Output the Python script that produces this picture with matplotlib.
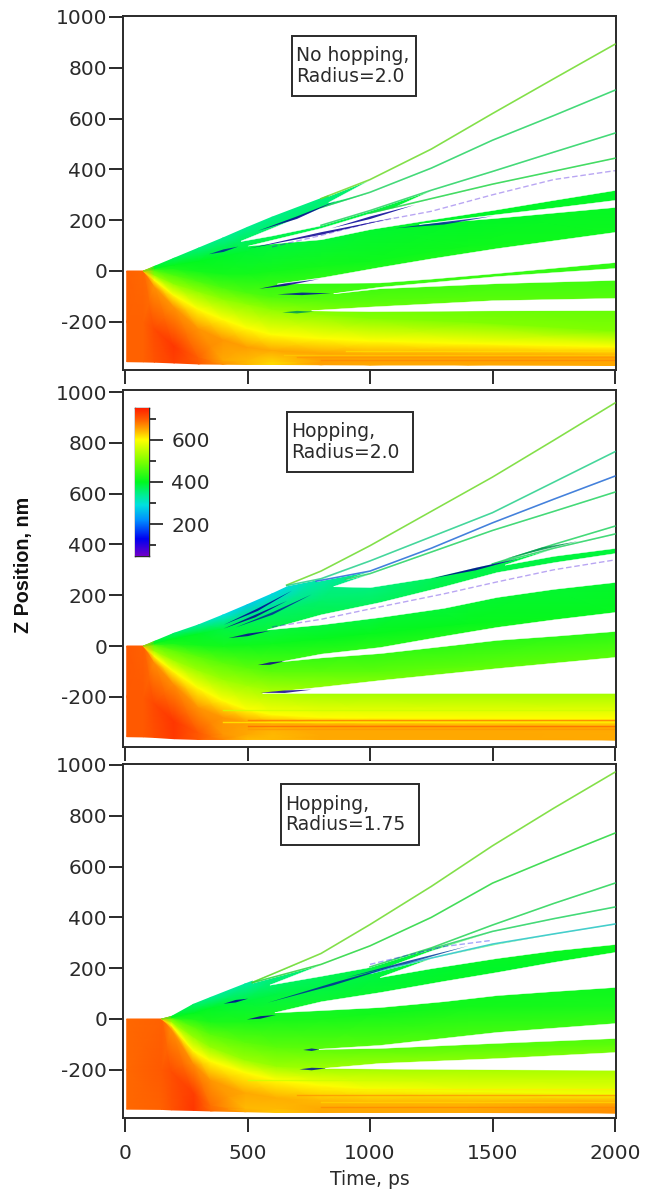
import numpy as np
import matplotlib
matplotlib.use("Agg")
import matplotlib.pyplot as plt
from matplotlib.colors import LinearSegmentedColormap, Normalize, to_rgb
from matplotlib.patches import Rectangle

plt.rcParams["axes.unicode_minus"] = False
W, H = 645, 1198
INK = "#2a2a2a"

# colour scale
SCALE_VALUES = [50, 130, 220, 290, 340, 400, 500, 600, 650, 700, 750]
SCALE_COLORS = ["#7000c8", "#0000f0", "#0090ff", "#00e0e0", "#00ee90", "#00f820", "#80ff00",
                "#ffff00", "#ffa800", "#ff5a00", "#ff2000"]

YTICKS = [-200, 0, 200, 400, 600, 800, 1000]
XTICKS = [0, 500, 1000, 1500, 2000]
TITLES = ["No hopping,\nRadius=2.0", "Hopping,\nRadius=2.0", "Hopping,\nRadius=1.75"]

# ---------- panel 1 ----------
P1_T = [7, 75, 120, 200, 300, 400, 500, 600, 800, 1000, 1400, 2000]
P1_Z = [
    [-357, -358, -359, -362, -366, -367, -368, -368, -369, -370, -370, -372],
    [-200, -200, -225, -295, -340, -350, -352, -354, -355, -356, -356, -356],
    [0, 0, -60, -140, -225, -270, -300, -312, -322, -328, -330, -335],
    [0, 0, -35, -95, -150, -190, -225, -250, -265, -275, -285, -298],
    [0, 0, -15, -50, -80, -110, -130, -150, -170, -185, -200, -235],
    [0, 0, 3, -15, -40, -65, -85, -100, -110, -110, -100, -100],
    [0, 0, 8, 10, 0, -10, -10, 0, 20, 40, 100, 150],
    [0, 0, 12, 25, 40, 60, 80, 105, 140, 180, 210, 320],
    [0, 0, 18, 50, 90, 130, 172, 212, 285, 360, 570, 893],
]
P1_V = [
    [695, 695, 705, 722, 700, 665, 640, 620, 655, 650, 650, 650],
    [695, 695, 712, 730, 695, 650, 640, 625, 655, 652, 652, 650],
    [695, 690, 662, 660, 660, 660, 655, 650, 650, 650, 650, 650],
    [695, 640, 600, 600, 600, 600, 600, 600, 600, 600, 600, 600],
    [695, 640, 510, 510, 510, 510, 510, 510, 510, 505, 500, 500],
    [695, 640, 460, 460, 460, 460, 460, 460, 465, 465, 465, 465],
    [695, 640, 430, 420, 415, 415, 415, 415, 415, 410, 410, 410],
    [695, 640, 405, 405, 400, 395, 390, 385, 385, 390, 395, 395],
    [695, 640, 390, 370, 350, 340, 340, 345, 350, 360, 400, 470],
]
P1_GAPS = [
    ([830, 1000, 1250, 1500, 1750, 2000], [296, 360, 480, 620, 757, 893], [1100, 1100, 1100, 1100, 1100, 1100]),
    ([830, 1000, 1250, 1500, 1750, 2000], [270, 310, 405, 515, 612, 712], [272, 360, 480, 620, 757, 893]),
    ([472, 600, 800, 1000, 1250, 1500, 1750, 2000], [118, 140, 180, 238, 318, 392, 468, 543],
     [120, 170, 250, 310, 405, 515, 612, 712]),
    ([1100, 1250, 1500, 1750, 2000], [252, 285, 342, 393, 444], [253, 318, 392, 468, 543]),
    ([500, 800, 1000, 1250, 1500, 1750, 2000], [100, 125, 165, 203, 240, 280, 319], [100, 170, 228, 285, 342, 393, 444]),
    ([1200, 1500, 1750, 2000], [185, 208, 230, 252], [186, 222, 250, 280]),
    ([620, 800, 1040, 1250, 1517, 2000], [-50, -47, -45, -30, -8, 35], [-49, -25, 16, 50, 90, 154]),
    ([850, 1040, 1517, 2000], [-88, -68, -48, -35], [-87, -62, -20, 12]),
    ([760, 1000, 1500, 2000], [-155, -158, -155, -154], [-154, -140, -115, -106]),
]
P1_LINES = [
    ([800, 1000, 1250, 1500, 1750, 2000], [285, 360, 480, 620, 757, 893], 480),
    ([800, 1000, 1250, 1500, 1750, 2000], [250, 310, 405, 515, 612, 712], 370),
    ([800, 1000, 1250, 1500, 1750, 2000], [180, 238, 318, 392, 468, 543], 370),
    ([1000, 1250, 1500, 1750, 2000], [228, 285, 342, 393, 444], 390),
]
P1_FAINT = ([600, 800, 1000, 1250, 1500, 1750, 2000], [95, 140, 190, 235, 300, 360, 395], 90)
P1_SLIVERS = [
    ([540, 700, 860], [160, 212, 278], 120),
    ([340, 400, 460], [68, 82, 98], 170),
    ([500, 800, 1100], [90, 150, 212], 120),
    ([840, 1000, 1180], [170, 212, 262], 130),
    ([1100, 1300, 1500], [170, 190, 218], 170),
    ([545, 650, 790], [-68, -52, -30], 120),
    ([620, 720, 840], [-90, -88, -86], 150),
    ([640, 700, 770], [-161, -160, -158], 340),
]
P1_STRIPES = [(650, -330, 630), (800, -352, 670), (700, -340, 660), (900, -315, 620)]

# ---------- panel 2 ----------
P2_T = [7, 75, 120, 200, 300, 400, 500, 600, 800, 1000, 1400, 2000]
P2_Z = [
    [-357, -358, -360, -365, -368, -368, -368, -368, -368, -368, -368, -370],
    [-200, -200, -225, -295, -340, -345, -345, -348, -350, -350, -350, -350],
    [0, 0, -65, -150, -240, -280, -300, -305, -310, -312, -315, -320],
    [0, 0, -40, -100, -165, -215, -250, -270, -280, -282, -283, -285],
    [0, 0, -18, -55, -95, -130, -155, -175, -190, -190, -190, -190],
    [0, 0, 3, -15, -40, -65, -85, -100, -100, -100, -80, -43],
    [0, 0, 8, 10, 5, 0, 5, 10, 30, 50, 90, 130],
    [0, 0, 12, 30, 50, 70, 95, 125, 180, 225, 340, 400],
    [0, 0, 18, 50, 83, 122, 163, 205, 295, 395, 595, 957],
]
P2_V = [
    [700, 700, 710, 728, 700, 670, 640, 640, 650, 650, 650, 650],
    [700, 700, 715, 730, 700, 660, 650, 640, 650, 650, 650, 648],
    [700, 695, 665, 665, 660, 660, 655, 650, 650, 650, 650, 650],
    [700, 640, 600, 600, 600, 600, 600, 600, 600, 600, 600, 600],
    [700, 640, 520, 520, 520, 520, 525, 530, 530, 530, 530, 530],
    [700, 640, 470, 470, 470, 470, 470, 470, 470, 470, 470, 470],
    [700, 640, 430, 420, 415, 415, 410, 410, 405, 405, 405, 405],
    [700, 640, 405, 400, 395, 380, 370, 365, 360, 350, 370, 385],
    [700, 640, 390, 360, 330, 290, 270, 280, 310, 330, 390, 480],
]
P2_GAPS = [
    ([660, 800, 1000, 1250, 1500, 1750, 2000], [240, 295, 395, 530, 665, 810, 957], [1100, 1100, 1100, 1100, 1100, 1100, 1100]),
    ([660, 800, 1000, 1250, 1500, 1750, 2000], [238, 265, 335, 430, 525, 645, 765], [240, 295, 395, 530, 665, 810, 957]),
    ([780, 1000, 1250, 1500, 1750, 2000], [255, 295, 385, 485, 578, 669], [256, 335, 430, 525, 645, 765]),
    ([900, 1000, 1250, 1500, 1750, 2000], [262, 285, 370, 455, 530, 606], [263, 295, 385, 485, 578, 669]),
    ([850, 1000, 1250, 1500, 1750, 2000], [235, 232, 270, 325, 400, 472], [236, 285, 370, 455, 530, 606]),
    ([1500, 1750, 2000], [322, 385, 441], [323, 400, 472]),
    ([1550, 1750, 2000], [320, 355, 386], [321, 385, 441]),
    ([580, 800, 1040, 1300, 1517, 1750, 2000], [65, 85, 114, 150, 193, 225, 252], [66, 125, 173, 235, 291, 330, 366]),
    ([640, 800, 1040, 1300, 1517, 1750, 2000], [-60, -45, -28, 0, 24, 40, 59], [-59, -30, -4, 40, 75, 105, 134]),
    ([560, 800, 1040, 1517, 2000], [-185, -185, -185, -185, -185], [-184, -160, -134, -87, -43]),
]
P2_LINES = [
    ([660, 800, 1000, 1250, 1500, 1750, 2000], [240, 295, 395, 530, 665, 810, 957], 480),
    ([660, 800, 1000, 1250, 1500, 1750, 2000], [238, 265, 335, 430, 525, 645, 765], 340),
    ([780, 1000, 1250, 1500, 1750, 2000], [255, 295, 385, 485, 578, 669], 190),
    ([900, 1000, 1250, 1500, 1750, 2000], [262, 285, 370, 455, 530, 606], 370),
    ([1500, 1750, 2000], [323, 400, 472], 370),
    ([1500, 1750, 2000], [322, 385, 441], 370),
]
P2_FAINT = ([600, 800, 1040, 1300, 1517, 1750, 2000], [75, 105, 154, 205, 252, 300, 339], 90)
P2_SLIVERS = [
    ([400, 540, 680], [85, 145, 220], 130),
    ([400, 530, 660], [70, 120, 180], 120),
    ([450, 600, 760], [75, 130, 205], 170),
    ([420, 500, 590], [33, 46, 62], 120),
    ([1250, 1430, 1600], [268, 305, 345], 130),
    ([1550, 1700, 1850], [345, 385, 415], 350),
    ([540, 590, 650], [-73, -67, -58], 110),
    ([550, 650, 760], [-182, -178, -170], 110),
]
P2_STRIPES = [(400, -250, 560), (500, -292, 680), (400, -300, 610), (500, -316, 690), (500, -328, 660)]

# ---------- panel 3 ----------
P3_T = [7, 150, 190, 280, 350, 490, 620, 800, 1000, 1400, 2000]
P3_Z = [
    [-355, -356, -358, -360, -362, -365, -368, -368, -368, -368, -370],
    [-200, -200, -205, -290, -340, -350, -352, -354, -355, -355, -355],
    [0, 0, -40, -175, -240, -290, -310, -320, -325, -325, -325],
    [0, 0, -25, -125, -165, -210, -240, -260, -275, -285, -295],
    [0, 0, -10, -70, -110, -160, -185, -195, -200, -200, -200],
    [0, 0, 3, -30, -60, -90, -110, -115, -115, -110, -100],
    [0, 0, 5, 0, -10, -10, -5, 0, 20, 50, 50],
    [0, 0, 8, 25, 45, 70, 100, 125, 150, 200, 200],
    [0, 0, 10, 58, 85, 138, 185, 258, 372, 620, 972],
]
P3_V = [
    [690, 695, 705, 730, 690, 650, 630, 650, 650, 650, 665],
    [690, 700, 710, 725, 685, 640, 640, 650, 650, 650, 665],
    [690, 695, 665, 665, 660, 650, 645, 640, 640, 640, 645],
    [690, 640, 600, 600, 600, 600, 600, 600, 595, 590, 590],
    [690, 640, 515, 515, 515, 520, 520, 525, 530, 530, 530],
    [690, 640, 470, 470, 470, 470, 470, 470, 470, 470, 470],
    [690, 640, 430, 425, 420, 420, 420, 420, 415, 415, 420],
    [690, 640, 405, 400, 395, 385, 380, 380, 385, 395, 400],
    [690, 640, 390, 360, 340, 330, 340, 350, 360, 400, 480],
]
P3_GAPS = [
    ([520, 800, 1000, 1250, 1500, 1750, 2000], [150, 258, 372, 522, 682, 830, 972], [1100, 1100, 1100, 1100, 1100, 1100, 1100]),
    ([520, 800, 1000, 1250, 1500, 1750, 2000], [143, 215, 288, 400, 535, 635, 732], [144, 258, 372, 522, 682, 830, 972]),
    ([590, 800, 1000, 1250, 1500, 1750, 2000], [135, 170, 205, 280, 370, 455, 535], [136, 215, 288, 400, 535, 635, 732]),
    ([1200, 1500, 1750, 2000], [262, 345, 395, 441], [263, 370, 455, 535]),
    ([1000, 1250, 1500, 1750, 2000], [180, 240, 295, 335, 374], [181, 270, 345, 395, 441]),
    ([1040, 1250, 1517, 1750, 2000], [165, 200, 240, 270, 295], [166, 240, 295, 335, 374]),
    ([610, 800, 1040, 1300, 1517, 1750, 2000], [26, 35, 47, 70, 94, 110, 126], [27, 70, 106, 150, 185, 225, 264]),
    ([790, 1040, 1517, 2000], [-118, -114, -94, -75], [-117, -102, -51, -16]),
    ([815, 1040, 1517, 2000], [-193, -195, -198, -200], [-192, -173, -154, -130]),
]
P3_LINES = [
    ([520, 800, 1000, 1250, 1500, 1750, 2000], [144, 258, 372, 522, 682, 830, 972], 480),
    ([520, 800, 1000, 1250, 1500, 1750, 2000], [143, 215, 288, 400, 535, 635, 732], 400),
    ([1000, 1250, 1500, 1750, 2000], [205, 280, 370, 455, 535], 380),
    ([1200, 1500, 1750, 2000], [262, 345, 395, 441], 370),
    ([1000, 1250, 1500, 1750, 2000], [180, 240, 295, 335, 374], 290),
]
P3_FAINT = ([1000, 1150, 1300, 1500], [215, 250, 285, 310], 130)
P3_SLIVERS = [
    ([580, 850, 1170], [66, 140, 232], 170),
    ([900, 1150, 1400], [165, 225, 290], 190),
    ([400, 450, 500], [62, 72, 82], 130),
    ([495, 550, 615], [0, 8, 18], 120),
    ([725, 760, 790], [-120, -119, -118], 150),
    ([710, 760, 820], [-196, -195, -192], 150),
]
P3_STRIPES = [(700, -300, 660), (800, -325, 625), (800, -345, 670), (500, -240, 560), (800, -275, 610)]

PANELS = [
    (P1_T, P1_Z, P1_V, P1_GAPS, P1_LINES, P1_FAINT, P1_SLIVERS, P1_STRIPES),
    (P2_T, P2_Z, P2_V, P2_GAPS, P2_LINES, P2_FAINT, P2_SLIVERS, P2_STRIPES),
    (P3_T, P3_Z, P3_V, P3_GAPS, P3_LINES, P3_FAINT, P3_SLIVERS, P3_STRIPES),
]

cmap = LinearSegmentedColormap.from_list(
    "igor", [((v - 50) / 700, c) for v, c in zip(SCALE_VALUES, SCALE_COLORS)], N=512)
norm = Normalize(50, 750)


def muted(v, mix=0.28):
    c = np.array(cmap(norm(v))[:3])
    return tuple((1 - mix) * c + mix * np.array(to_rgb("#808080")))


def dark(v, factor=0.62):
    return tuple(factor * np.array(cmap(norm(v))[:3]))


def px_axes(fig, l, t, r, b):
    return fig.add_axes([l / W, 1 - b / H, (r - l) / W, (b - t) / H])


FRAMES = [(123, 16, 616, 370, 271), (123, 390, 616, 747, 646), (123, 764, 616, 1118, 1019)]
BOXES = [(292, 36, 416, 96), (287, 412, 413, 472), (281, 784, 419, 845)]

fig = plt.figure(figsize=(W / 100, H / 100), dpi=100)
for idx, (frame, data, title, box) in enumerate(zip(FRAMES, PANELS, TITLES, BOXES)):
    l, t, r, b, y0 = frame
    ax = px_axes(fig, l, t, r, b)
    T, Z, V, gaps, lines, faint, slivers, stripes = data
    ax.set_xlim((l - 125) / 0.245, (r - 125) / 0.245)
    ax.set_ylim((y0 - b) / 0.254, (y0 - t) / 0.254)
    Za = np.array(Z, float)
    Ta = np.tile(np.array(T, float), (Za.shape[0], 1))
    ax.pcolormesh(Ta, Za, np.array(V, float), cmap=cmap, norm=norm, shading="gouraud", zorder=1)
    for t0, z, v in stripes:
        ax.plot([t0, 2000], [z, z], color=cmap(norm(v)), lw=1.0, alpha=0.8, zorder=1.5)
    for gt, lo, hi in gaps:
        ax.fill_between(gt, lo, hi, color="white", lw=0.3, zorder=2)
    for lt, lz, v in lines:
        ax.plot(lt, lz, color=muted(v), lw=1.15, alpha=0.85, zorder=3)
    ax.plot(faint[0], faint[1], color=cmap(norm(faint[2])), lw=1.0, alpha=0.35, ls=(0, (4, 2)), zorder=3)
    for st, sz, v in slivers:
        sa, za = np.array(st, float), np.array(sz, float)
        half = np.array([0.0, 5.0, 0.0])
        ax.fill_between(sa, za - half, za + half, color=dark(v), lw=0, alpha=0.85, zorder=4)
    ax.set_xticks(XTICKS)
    ax.set_yticks(YTICKS)
    ax.tick_params(axis="both", direction="out", length=10, width=1.4, color=INK,
                   labelsize=14.5, labelcolor=INK, pad=1.5)
    ax.tick_params(axis="x", labelbottom=idx == 2, pad=9)
    for s in ax.spines.values():
        s.set_linewidth(1.4)
        s.set_color(INK)
    bl, bt, br, bb = box
    fig.add_artist(Rectangle((bl / W, 1 - bb / H), (br - bl) / W, (bb - bt) / H, transform=fig.transFigure,
                             fc="white", ec=INK, lw=1.4, zorder=5))
    fig.text((bl + 4) / W, 1 - (bt + bb) / 2 / H, title, fontsize=13.5, color=INK, va="center", ha="left",
             linespacing=1.1, zorder=6)
    if idx == 2:
        ax.set_xlabel("Time, ps", fontsize=13.5, color=INK, labelpad=5)

fig.text(24 / W, 1 - 565 / H, "Z Position, nm", rotation=90, fontsize=14.2, fontweight="bold",
         family="Liberation Sans", color="#111111", ha="center", va="center")

cax = px_axes(fig, 135, 408, 149, 556)
grad = np.linspace(50, 750, 256).reshape(-1, 1)
cax.imshow(grad, origin="lower", aspect="auto", cmap=cmap, norm=norm, extent=(0, 1, 50, 750), zorder=7)
cax.set_zorder(8)
cax.set_xticks([])
cax.yaxis.tick_right()
cax.set_yticks([200, 400, 600])
cax.set_yticks([100, 300, 500, 700], minor=True)
cax.tick_params(axis="y", which="major", length=10, width=1.3, color=INK, labelsize=14.5, labelcolor=INK, pad=6)
cax.tick_params(axis="y", which="minor", length=5, width=1.3, color=INK)
for s in cax.spines.values():
    s.set_linewidth(1.0)
    s.set_color(INK)

fig.savefig("out.png", dpi=100, facecolor="white")
